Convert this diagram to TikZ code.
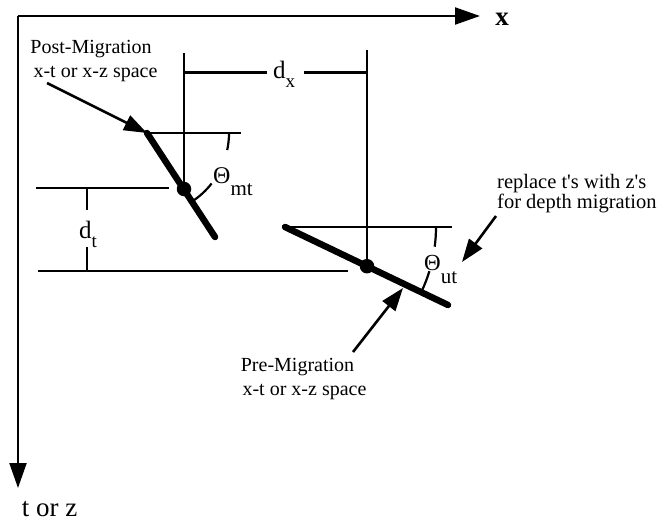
\documentclass[tikz,border=0pt]{standalone}
\usepackage{fontspec}
\setmainfont{Liberation Serif}
\newfontfamily\rawserif{Liberation Serif}
\usetikzlibrary{arrows.meta,calc}
\begin{document}
\begin{tikzpicture}[x=1pt,y=1pt,
  thinln/.style={line width=2.2pt},
  thickln/.style={line width=6.5pt,line cap=round},
  axisln/.style={line width=2pt,-{Triangle[length=25pt,width=17pt]}},
  pointer/.style={line width=2.6pt,-{Triangle[length=23pt,width=16pt]}},
  lbl/.style={inner sep=0pt,font=\fontsize{20}{24}\selectfont},
  sym/.style={inner sep=0pt,anchor=base west},
  dot/.style={circle,fill=black,inner sep=0pt,minimum size=14.5pt}]
\useasboundingbox (0,0) rectangle (669,-522);
% axes
\coordinate (O) at (18,-16);
\coordinate (Xend) at (480,-16);
\coordinate (Tend) at (18,-488);
\draw[axisln] (O) -- (Xend);
\draw[axisln] (O) -- (Tend);
\node[inner sep=0pt,font=\fontsize{27}{27}\selectfont\bfseries] (xlab) at (502,-19) {x};
\node[inner sep=0pt,font=\fontsize{27}{27}\selectfont] (tlab) at (49.5,-509) {t or z};
% key points
\coordinate (A1) at (147,-133);
\coordinate (A2) at (215,-237);
\coordinate (D1c) at (184,-189);
\coordinate (B1) at (285,-227);
\coordinate (B2) at (448,-305);
\coordinate (D2c) at (367,-266.2);
% reference lines
\coordinate (H1e) at (241,-133);
\coordinate (H2e) at (452,-227);
\coordinate (VLt) at (184,-53);
\coordinate (VRt) at (367,-50);
\coordinate (LHa) at (36,-188);
\coordinate (LHb) at (169,-188);
\coordinate (BHa) at (38,-271);
\coordinate (BHb) at (348,-271);
\draw[thinln] (A1) -- (H1e);
\draw[thinln] (B1) -- (H2e);
\draw[thinln] (VLt) -- (D1c);
\draw[thinln] (VRt) -- (D2c);
\draw[thinln] (LHa) -- (LHb);
\draw[thinln] (BHa) -- (BHb);
% d_x dimension
\node[sym] (dx) at (273,-78) {\fontsize{25}{25}\selectfont d\raisebox{-9pt}{\fontsize{19}{19}\selectfont x}};
\coordinate (dxa) at (184,-72.5);
\coordinate (dxb) at (267,-72.5);
\coordinate (dxc) at (304,-72.5);
\coordinate (dxd) at (367,-72.5);
\draw[thinln] (dxa) -- (dxb);
\draw[thinln] (dxc) -- (dxd);
% d_t dimension
\node[sym] (dt) at (79,-238) {\fontsize{25}{25}\selectfont d\raisebox{-9pt}{\fontsize{19}{19}\selectfont t}};
\coordinate (dta) at (87,-188);
\coordinate (dtb) at (87,-210);
\coordinate (dtc) at (87,-247);
\coordinate (dtd) at (87,-271);
\draw[thinln] (dta) -- (dtb);
\draw[thinln] (dtc) -- (dtd);
% angle arcs
\draw[thinln] (A1) ++(0:82) arc[start angle=0,end angle=-12,radius=82];
\draw[thinln] (A1) ++(-38:82) arc[start angle=-38,end angle=-55,radius=82];
\draw[thinln] (B1) ++(0:151) arc[start angle=0,end angle=-7.5,radius=151];
\draw[thinln] (B1) ++(-17:151) arc[start angle=-17,end angle=-25,radius=151];
\node[sym] (thmt) at (213,-183) {\fontsize{24}{24}\selectfont Θ\raisebox{-12pt}{\fontsize{21}{21}\selectfont mt}};
\node[sym] (thut) at (424,-270) {\fontsize{23}{23}\selectfont Θ\raisebox{-13pt}{\fontsize{21}{21}\selectfont ut}};
% events
\draw[thickln] (A1) -- (A2);
\draw[thickln] (B1) -- (B2);
\node[dot] (D1) at (D1c) {};
\node[dot] (D2) at (D2c) {};
% labels and pointers
\node[lbl,anchor=base] (post1) at (91,-53) {Post-Migration};
\node[lbl,anchor=base] (post2) at (95.5,-77) {x-t or x-z space};
\coordinate (PA) at (47,-83);
\draw[pointer] (PA) -- (A1);
\node[lbl,anchor=base] (pre1) at (297.5,-371) {Pre-Migration};
\node[lbl,anchor=base] (pre2) at (304.5,-395) {x-t or x-z space};
\coordinate (LA) at (353,-352);
\coordinate (LT) at (403,-288);
\draw[pointer] (LA) -- (LT);
\node[lbl,anchor=base west,font=\fontsize{20.5}{24}\rawserif] (rep1) at (497,-188) {replace t's with z's};
\node[lbl,anchor=base west,font=\fontsize{20.5}{24}\rawserif] (rep2) at (497,-208) {for depth migration};
\coordinate (RA) at (496,-216);
\coordinate (RT) at (462,-262);
\draw[pointer] (RA) -- (RT);
\end{tikzpicture}
\end{document}
